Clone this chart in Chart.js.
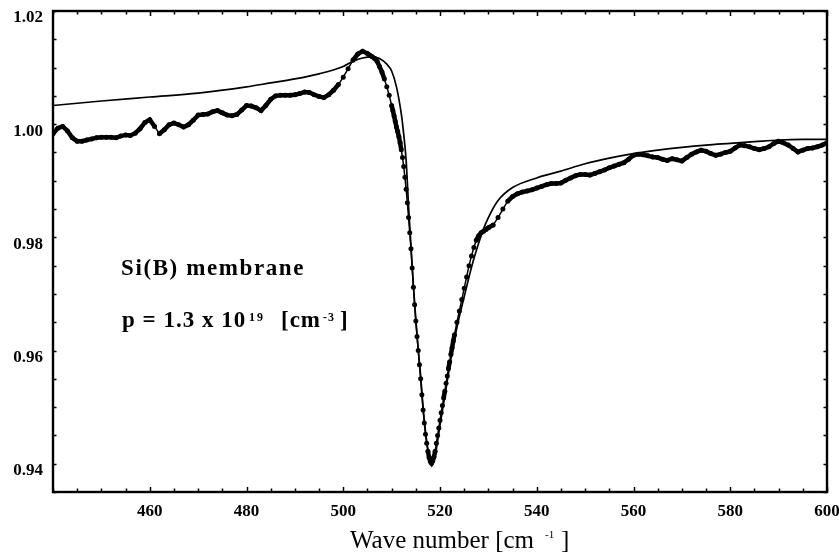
<!DOCTYPE html>
<html>
<head>
<meta charset="utf-8">
<script src="https://cdn.jsdelivr.net/npm/chart.js@4.4.1/dist/chart.umd.min.js"></script>
<style>
  html, body { margin: 0; padding: 0; background: #fff; }
  #wrap { width: 839px; height: 557px; }
</style>
</head>
<body>
<div id="wrap"><canvas id="chartRaman" width="839" height="557"></canvas></div>
<script>
// measured spectrum (thick dotted curve)
const expX = [
  440,441,442,443,444,445,446,447,448,449,450,451,452,453,454,455,456,457,458,459,
  460,461,462,463,464,465,466,467,468,469,470,471,472,473,474,475,476,477,478,479,
  480,481,482,483,484,485,486,487,488,489,490,491,492,493,494,495,496,497,498,499,
  500,501,502,503,504,505,505.5,506,506.5,507,507.5,508,508.5,509,509.5,
  510,510.25,510.5,510.75,511,511.25,511.5,511.75,512,512.25,512.5,512.75,513,513.25,513.5,513.75,
  514,514.25,514.5,514.75,515,515.25,515.5,515.75,516,516.25,516.5,516.75,517,517.25,517.5,517.75,
  518,518.25,518.5,518.75,519,519.25,519.5,519.75,520,520.25,520.5,520.75,521,521.25,521.5,521.75,
  522,522.25,522.5,522.75,523,523.5,524,524.5,525,525.5,526,526.5,527,527.5,528,528.5,529,529.5,530,
  531,532,533,534,535,536,537,538,539,540,541,542,543,544,545,546,547,548,549,550,
  551,552,553,554,555,556,557,558,559,560,561,562,563,564,565,566,567,568,569,570,
  571,572,573,574,575,576,577,578,579,580,581,582,583,584,585,586,587,588,589,590,
  591,592,593,594,595,596,597,598,599,600
];
const expY = [
  0.9983,0.9993,0.9996,0.9988,0.9976,0.9970,0.9970,0.9972,0.9974,0.9976,0.9977,0.9977,0.9977,0.9976,0.9979,0.9981,0.9980,0.9984,0.9992,1.0003,
  1.0008,0.9996,0.9983,0.9990,0.9999,1.0002,0.9999,0.9995,0.9999,1.0007,1.0016,1.0017,1.0018,1.0022,1.0024,1.0020,1.0016,1.0015,1.0017,1.0025,
  1.0033,1.0032,1.0029,1.0024,1.0033,1.0044,1.0050,1.0051,1.0051,1.0051,1.0052,1.0054,1.0057,1.0056,1.0052,1.0049,1.0047,1.0052,1.0060,1.0070,
  1.0083,1.0098,1.0113,1.0124,1.0129,1.0125,1.0122,1.0119,1.0116,1.0111,1.0102,1.0092,1.0080,1.0066,1.0051,
  1.0033,1.0024,1.0015,1.0005,0.9995,0.9987,0.9978,0.9967,0.9955,0.9941,0.9925,0.9906,0.9885,0.9861,0.9835,0.9808,
  0.9780,0.9746,0.9712,0.9681,0.9652,0.9625,0.9600,0.9575,0.9550,0.9522,0.9495,0.9472,0.9452,0.9436,0.9422,0.9411,
  0.9404,0.9401,0.9405,0.9412,0.9422,0.9436,0.9450,0.9463,0.9477,0.9490,0.9503,0.9516,0.9528,0.9542,0.9555,0.9568,
  0.9580,0.9593,0.9605,0.9617,0.9628,0.9650,0.9670,0.9690,0.9710,0.9730,0.9750,0.9767,0.9782,0.9795,0.9803,0.9808,0.9811,0.9814,0.9817,
  0.9822,0.9835,0.9850,0.9864,0.9872,0.9877,0.9880,0.9882,0.9884,0.9887,0.9890,0.9893,0.9895,0.9895,0.9896,0.9901,0.9905,0.9909,0.9911,0.9911,
  0.9910,0.9913,0.9916,0.9919,0.9923,0.9926,0.9929,0.9932,0.9938,0.9945,0.9947,0.9946,0.9944,0.9942,0.9941,0.9938,0.9936,0.9939,0.9937,0.9935,
  0.9941,0.9947,0.9951,0.9954,0.9952,0.9948,0.9945,0.9947,0.9950,0.9952,0.9958,0.9963,0.9962,0.9960,0.9957,0.9955,0.9957,0.9960,0.9966,0.9970,
  0.9967,0.9963,0.9957,0.9951,0.9954,0.9957,0.9958,0.9960,0.9963,0.9967
];

// fitted line (thin curve)
const fitX = [440,450,460,470,480,485,490,495,500,502,504,506,507.5,509,510,511,512,512.5,513,513.5,514,514.5,515,515.5,516,516.5,517,517.5,518,518.5,519,519.5,520,521,522,523,524,525,526,527,528,529,530,532,535,540,545,550,555,560,565,570,575,580,585,590,595,600];
const fitY = [1.0033,1.0041,1.0048,1.0055,1.0066,1.0073,1.0080,1.0089,1.0102,1.0111,1.0117,1.0119,1.0116,1.0106,1.0094,1.0066,1.0018,0.9982,0.9936,0.9855,0.9785,0.9715,0.9655,0.9602,0.9555,0.9500,0.9457,0.9425,0.9407,0.9404,0.9415,0.9440,0.9468,0.9520,0.9572,0.9620,0.9660,0.9695,0.9730,0.9762,0.9790,0.9815,0.9835,0.9865,0.9888,0.9905,0.9917,0.9930,0.9940,0.9948,0.9954,0.9959,0.9963,0.9966,0.9969,0.9972,0.9973,0.9973];

const xTickLabels = [460, 480, 500, 520, 540, 560, 580, 600];
const yTickLabels = [0.94, 0.96, 0.98, 1.00, 1.02];

const SERIF = '"Liberation Serif", "Times New Roman", serif';

// frame, inward ticks and text labels
const framePlugin = {
  id: "frameAndText",
  afterDraw(chart) {
    const ctx = chart.ctx;
    const a = chart.chartArea;
    const xs = chart.scales.x, ys = chart.scales.y;
    ctx.save();
    ctx.strokeStyle = "#000";
    ctx.lineWidth = 1.5;
    ctx.beginPath();
    xs.ticks.forEach(t => {
      const px = Math.round(xs.getPixelForValue(t.value)) + 0.5;
      const len = xTickLabels.includes(t.value) ? 5 : 3.5;
      ctx.moveTo(px, a.bottom); ctx.lineTo(px, a.bottom - len);
      ctx.moveTo(px, a.top); ctx.lineTo(px, a.top + len);
    });
    ys.ticks.forEach(t => {
      const py = Math.round(ys.getPixelForValue(t.value)) + 0.5;
      ctx.moveTo(a.left, py); ctx.lineTo(a.left + 3.5, py);
      ctx.moveTo(a.right, py); ctx.lineTo(a.right - 3.5, py);
    });
    ctx.stroke();
    ctx.lineWidth = 2.4;
    ctx.strokeRect(a.left, a.top, a.right - a.left, a.bottom - a.top);

    ctx.fillStyle = "#000";
    ctx.textBaseline = "alphabetic";
    ctx.textAlign = "left";
    // axis title
    ctx.font = "25px " + SERIF;
    ctx.fillText("Wave number [cm", 350, 548);
    ctx.font = "11px " + SERIF;
    ctx.fillText("-1", 545, 538);
    ctx.font = "25px " + SERIF;
    ctx.fillText("]", 561, 548);

    // annotation
    ctx.font = "bold 23px " + SERIF;
    ctx.letterSpacing = "1.6px";
    ctx.fillText("Si(B) membrane", 121, 275);
    ctx.letterSpacing = "1px";
    ctx.fillText("p = 1.3 x 10", 122, 327);
    ctx.fillText("[cm", 281, 327);
    ctx.fillText("]", 340, 327);
    ctx.font = "bold 12px " + SERIF;
    ctx.letterSpacing = "2px";
    ctx.fillText("19", 249, 321);
    ctx.letterSpacing = "1px";
    ctx.fillText("-3", 323, 321);
    ctx.restore();
  }
};

function buildChart() {
  const ctx = document.getElementById("chartRaman").getContext("2d");
  new Chart(ctx, {
    type: "line",
    data: {
      datasets: [
        {
          label: "fit",
          data: fitX.map((x, i) => ({ x: x, y: fitY[i] })),
          borderColor: "#000",
          borderWidth: 1.7,
          pointRadius: 0,
          cubicInterpolationMode: "monotone",
          fill: false
        },
        {
          label: "experiment",
          data: expX.map((x, i) => ({ x: x, y: expY[i] })),
          borderColor: "#000",
          borderWidth: 4,
          pointRadius: 2.5,
          pointBorderWidth: 0,
          pointBackgroundColor: "#000",
          tension: 0,
          segment: {
            // steep flanks: thin line so the sample dots show
            borderWidth: c => Math.abs(c.p1.y - c.p0.y) > 7 ? 1.5 : 4.5
          },
          fill: false
        }
      ]
    },
    options: {
      responsive: false,
      animation: false,
      devicePixelRatio: 1,
      layout: { padding: { top: 11, right: 12, left: 0, bottom: 0 } },
      plugins: { legend: { display: false }, tooltip: { enabled: false } },
      scales: {
        x: {
          type: "linear",
          min: 440,
          max: 600,
          afterFit: s => { s.height = 65; s.paddingLeft = 0; s.paddingRight = 0; },
          grid: { display: false, drawTicks: false },
          border: { display: false },
          ticks: {
            stepSize: 5,
            autoSkip: false,
            maxRotation: 0,
            padding: 9,
            color: "#000",
            font: { family: SERIF, size: 17, weight: "bold" },
            callback: v => xTickLabels.includes(v) ? String(v) : ""
          }
        },
        y: {
          min: 0.935,
          max: 1.02,
          afterFit: s => { s.width = 53; s.paddingTop = 0; s.paddingBottom = 0; },
          grid: { display: false, drawTicks: false },
          border: { display: false },
          ticks: {
            stepSize: 0.005,
            autoSkip: false,
            padding: 10,
            labelOffset: 7,
            color: "#000",
            font: { family: SERIF, size: 17, weight: "bold" },
            callback: v => {
              const hit = yTickLabels.find(l => Math.abs(l - v) < 1e-6);
              return hit !== undefined ? hit.toFixed(2) : "";
            }
          }
        }
      }
    },
    plugins: [framePlugin]
  });
}

window.onload = () => {
  buildChart();
};
</script>
</body>
</html>
